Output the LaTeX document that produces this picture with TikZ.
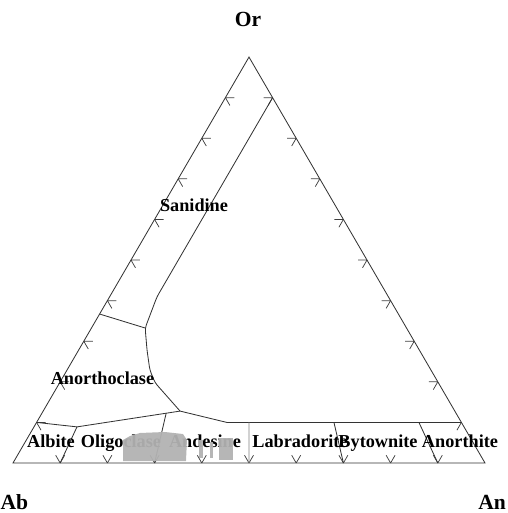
\documentclass[tikz,border=0pt]{standalone}
\usepackage{fontspec}
\setmainfont{Liberation Serif}
\usetikzlibrary{calc}

\begin{document}
\begin{tikzpicture}[
		border/.style={line width=0.5pt, black!80},
		tickmark/.style={line width=0.45pt, black!75},
		field/.style={anchor=base, inner sep=0pt, font=\fontsize{11}{13}\selectfont\bfseries},
		corner/.style={anchor=base, inner sep=0pt, font=\fontsize{13}{15}\selectfont\bfseries},
		stipple/.style={fill=gray!60, fill opacity=0.95}]
	\useasboundingbox (-0.275,-1.059) rectangle (10.466,9.809);

	% triangle
	\coordinate (Ab) at (0,0);
	\coordinate (An) at (10,0);
	\coordinate (Or) at (5,8.6);
	\draw[border] (Ab) -- (An) -- (Or) -- cycle;

	% ticks every 10 %
	\foreach \i in {1,...,9} {
		\coordinate (l) at ($(Ab)!\i/10!(Or)$);
		\coordinate (r) at ($(Or)!\i/10!(An)$);
		\coordinate (b\i) at ($(Ab)!\i/10!(An)$);
		\draw[tickmark] (l) -- ++(0:0.19) (l) -- ++(-60:0.19);
		\draw[tickmark] (r) -- ++(180:0.19) (r) -- ++(240:0.19);
		\draw[tickmark] (b\i) -- ++(60:0.19) (b\i) -- ++(120:0.19);
	}

	% field boundaries
	\coordinate (s1) at ($(Or)!0.1!(An)$);
	\coordinate (s2) at (3.05,3.52);
	\coordinate (s3) at (2.80,2.86);
	\coordinate (j) at (3.54,1.10);
	\coordinate (k) at ($(Or)!0.911!(b1)$);
	\coordinate (m) at (4.53,0.86);
	\coordinate (o1) at ($(An)!0.1!(Or)$);
	\draw[border, rounded corners=2pt] (s1) -- (s2) -- (s3) -- (2.84,2.39) -- (2.90,1.97) -- (3.01,1.70) -- (j);
	\draw[border] ($(Ab)!0.367!(Or)$) -- (s3);
	\draw[border] ($(Ab)!0.1!(Or)$) -- (k) -- (j) -- (m) -- (o1);
	\draw[border] (b1) -- (k);
	\draw[border] (b3) -- (intersection of b3--Or and k--j);
	\draw[border, gray] (b5) -- (intersection of b5--Or and m--o1);
	\draw[border] (b7) -- (intersection of b7--Or and m--o1);
	\draw[border] (b9) -- (intersection of b9--Or and m--o1);

	% labels
	\node[corner] (or) at (4.98,9.24) {Or};
	\node[corner] (ab) at (0.03,-0.975) {Ab};
	\node[corner] (an) at (10.15,-0.975) {An};
	\node[field] (sanidine) at (3.835,5.318) {Sanidine};
	\node[field] (anorthoclase) at (1.896,1.653) {Anorthoclase};
	\node[field] (albite) at (0.805,0.339) {Albite};
	\node[field] (oligoclase) at (2.288,0.339) {Oligoclase};
	\node[field] (andesine) at (4.068,0.339) {Andesine};
	\node[field] (labradorite) at (6.08,0.339) {Labradorite};
	\node[field] (bytownite) at (7.733,0.339) {Bytownite};
	\node[field] (anorthite) at (9.47,0.339) {Anorthite};

	% measured compositions
	\fill[stipple] (2.331,0.487) -- (2.479,0.572) -- (2.691,0.636) -- (3.220,0.657) -- (3.602,0.614)
		-- (3.686,0.487) -- (3.665,0.042) -- (2.331,0.042) -- cycle;
	\fill[stipple] (3.94,0.106) rectangle (4.03,0.487);
	\fill[stipple] (4.17,0.106) rectangle (4.24,0.445);
	\fill[stipple] (4.36,0.064) rectangle (4.66,0.53);
\end{tikzpicture}
\end{document}
